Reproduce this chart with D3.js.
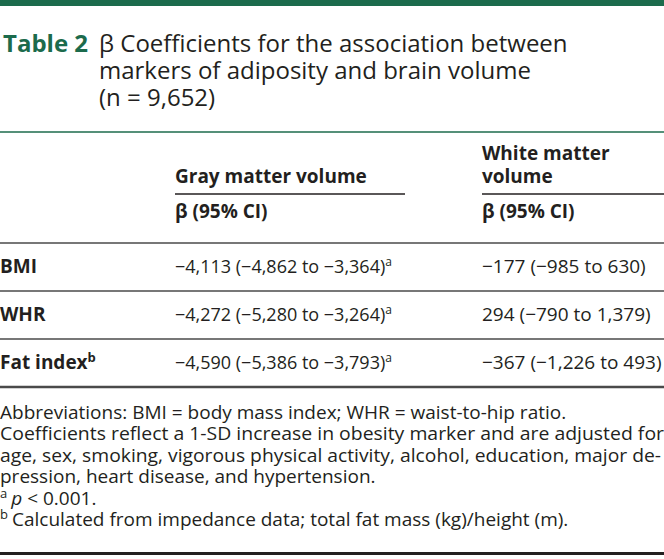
<!DOCTYPE html>
<html><head><meta charset="utf-8">
<script src="https://cdn.jsdelivr.net/npm/d3@7/dist/d3.min.js"></script>
<style>body{margin:0;background:#fff}svg{display:block}text{font-family:"Open Sans",sans-serif;fill:#231f20}</style>
</head><body><svg id="c" width="664" height="559"></svg>
<script>
const titleLabel = "Table 2";
const titleLines = ["β Coefficients for the association between", "markers of adiposity and brain volume", "(n = 9,652)"];
const columnHeaders = [["Gray matter volume"], ["White matter", "volume"]];
const subHeader = "β (95% CI)";
const rowLabels = ["BMI", "WHR", "Fat index"];
const rowLabelSup = ["", "", "b"];
const grayValues = ["−4,113 (−4,862 to −3,364)", "−4,272 (−5,280 to −3,264)", "−4,590 (−5,386 to −3,793)"];
const graySup = ["a", "a", "a"];
const whiteValues = ["−177 (−985 to 630)", "294 (−790 to 1,379)", "−367 (−1,226 to 493)"];
const footLines = [
  {t:"Abbreviations: BMI = body mass index; WHR = waist-to-hip ratio.", j:false},
  {t:"Coefficients reflect a 1-SD increase in obesity marker and are adjusted for", j:true},
  {t:"age, sex, smoking, vigorous physical activity, alcohol, education, major de-", j:true},
  {t:"pression, heart disease, and hypertension.", j:false}
];
const footNotes = [{sup:"a", t:"p", rest:" < 0.001."}, {sup:"b", t:"", rest:"Calculated from impedance data; total fat mass (kg)/height (m)."}];

const svg = d3.select("#c");
const green = "#1c6b4c";
const W = 664;

svg.append("rect").attr("x",0).attr("y",0).attr("width",W).attr("height",6).attr("fill",green);

// title
svg.append("text").attr("x",3).attr("y",52).attr("font-size",24).attr("font-weight",700)
  .style("fill",green).text(titleLabel);
svg.selectAll("text.tl").data(titleLines).join("text").attr("class","tl")
  .attr("x",99).attr("y",(d,i)=>52+i*27).attr("font-size",24).text(d=>d);

svg.append("line").attr("x1",0).attr("x2",W).attr("y1",132).attr("y2",132).attr("stroke",green).attr("stroke-width",1.6);

const colX = [175, 482];
const colEnd = [405, 664];
// headers
columnHeaders.forEach((lines,ci)=>{
  const n = lines.length;
  lines.forEach((l,li)=>{
    svg.append("text").attr("x",colX[ci]).attr("y",183-(n-1-li)*23.5).attr("font-size",19).attr("font-weight",700).text(l);
  });
  svg.append("line").attr("x1",colX[ci]).attr("x2",colEnd[ci]).attr("y1",194).attr("y2",194).attr("stroke","#231f20").attr("stroke-width",1.5);
  svg.append("text").attr("x",colX[ci]).attr("y",218).attr("font-size",19).attr("font-weight",700).text(subHeader);
});

const y = d3.scaleBand().domain(rowLabels).range([243,387]);
const lineColor = "#4a4a4a";
svg.append("line").attr("x1",0).attr("x2",W).attr("y1",243).attr("y2",243).attr("stroke",lineColor).attr("stroke-width",1.6);

rowLabels.forEach((r,i)=>{
  const yb = y(r) + y.bandwidth()/2 + 6;
  const t = svg.append("text").attr("x",0).attr("y",yb).attr("font-size",19).attr("font-weight",700).text(r);
  if(rowLabelSup[i]) t.append("tspan").attr("dy",-7).attr("font-size",13).text(rowLabelSup[i]);
  const g = svg.append("text").attr("x",colX[0]).attr("y",yb).attr("font-size",18).text(grayValues[i]);
  if(graySup[i]) g.append("tspan").attr("dy",-7).attr("font-size",12).text(graySup[i]);
  svg.append("text").attr("x",colX[1]).attr("y",yb).attr("font-size",19).text(whiteValues[i]);
  const ly = y(r)+y.bandwidth();
  svg.append("line").attr("x1",0).attr("x2",W).attr("y1",ly).attr("y2",ly).attr("stroke",lineColor)
    .attr("stroke-width", i===rowLabels.length-1 ? 2.4 : 1.6);
});

// footnotes
footLines.forEach((f,i)=>{
  const t = svg.append("text").attr("x",0).attr("y",419+i*21.4).attr("font-size",19).text(f.t);
  if(f.j) t.attr("textLength", i===1?664:661).attr("lengthAdjust","spacingAndGlyphs");
});
footNotes.forEach((f,i)=>{
  const yb = 419+(4+i)*21.4;
  const t = svg.append("text").attr("x",0).attr("y",yb).attr("font-size",19);
  t.append("tspan").attr("font-size",13).attr("dy",-7).text(f.sup);
  const rest = t.append("tspan").attr("dy",7).attr("dx",4);
  if(f.t){ rest.attr("font-style","italic").text(f.t); t.append("tspan").text(f.rest); }
  else rest.text(f.rest);
});

svg.append("rect").attr("x",0).attr("y",552).attr("width",W).attr("height",3).attr("fill","#231f20");
</script></body></html>
